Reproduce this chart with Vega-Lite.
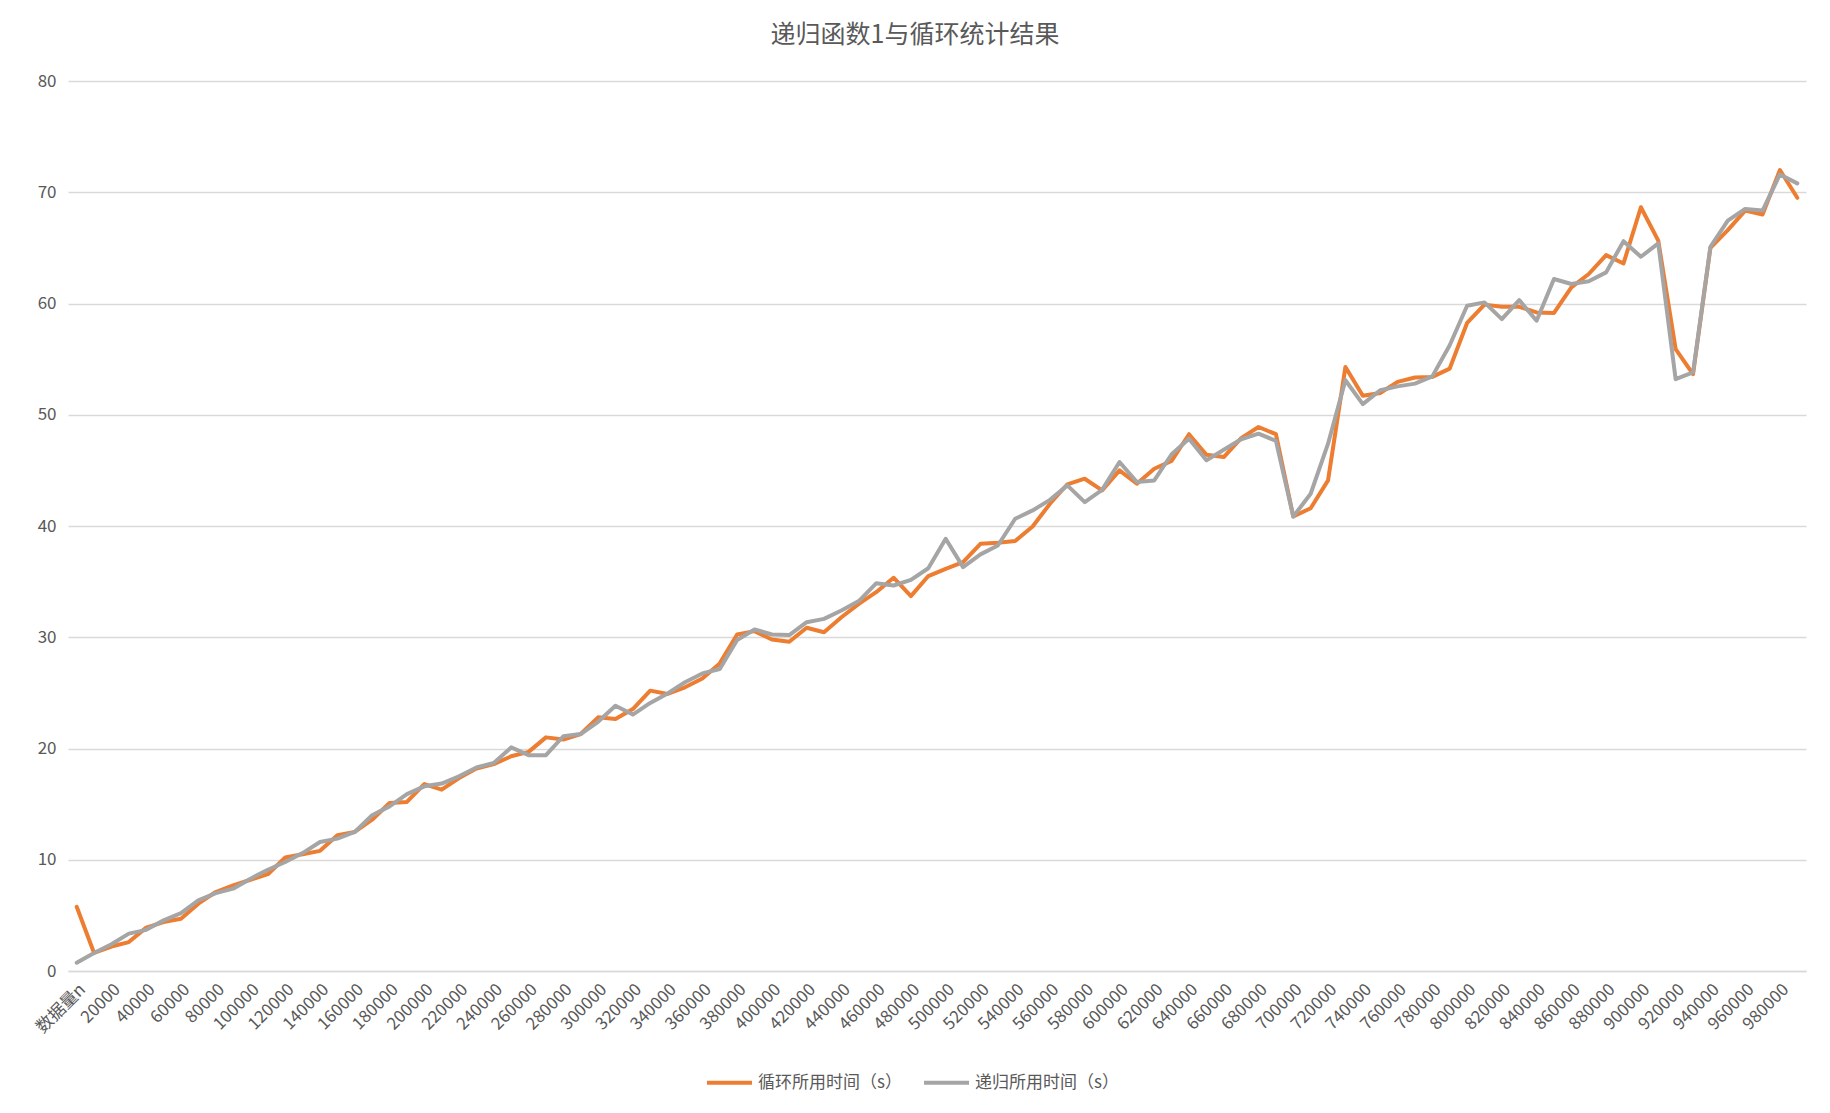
{
  "$schema": "https://vega.github.io/schema/vega-lite/v6.json",
  "width": 1738,
  "height": 890,
  "autosize": {"type": "none"},
  "padding": {"left": 68, "top": 81, "right": 24, "bottom": 142},
  "background": "white",
  "title": {
    "text": "递归函数1与循环统计结果",
    "font": "Noto Sans CJK SC",
    "fontSize": 25,
    "fontWeight": "normal",
    "color": "#595959",
    "anchor": "middle",
    "dx": -22,
    "offset": 24
  },
  "data": {
    "values": [
      {"n": "数据量n", "循环所用时间（s）": 5.77, "递归所用时间（s）": 0.75},
      {"n": "10000", "循环所用时间（s）": 1.62, "递归所用时间（s）": 1.62},
      {"n": "20000", "循环所用时间（s）": 2.2, "递归所用时间（s）": 2.4},
      {"n": "30000", "循环所用时间（s）": 2.6, "递归所用时间（s）": 3.36},
      {"n": "40000", "循环所用时间（s）": 3.9, "递归所用时间（s）": 3.7},
      {"n": "50000", "循环所用时间（s）": 4.4, "递归所用时间（s）": 4.55},
      {"n": "60000", "循环所用时间（s）": 4.7, "递归所用时间（s）": 5.2},
      {"n": "70000", "循环所用时间（s）": 6.05, "递归所用时间（s）": 6.35},
      {"n": "80000", "循环所用时间（s）": 7.1, "递归所用时间（s）": 7.0},
      {"n": "90000", "循环所用时间（s）": 7.7, "递归所用时间（s）": 7.4},
      {"n": "100000", "循环所用时间（s）": 8.2, "递归所用时间（s）": 8.3},
      {"n": "110000", "循环所用时间（s）": 8.7, "递归所用时间（s）": 9.1},
      {"n": "120000", "循环所用时间（s）": 10.2, "递归所用时间（s）": 9.8},
      {"n": "130000", "循环所用时间（s）": 10.5, "递归所用时间（s）": 10.6},
      {"n": "140000", "循环所用时间（s）": 10.8, "递归所用时间（s）": 11.6},
      {"n": "150000", "循环所用时间（s）": 12.2, "递归所用时间（s）": 11.9},
      {"n": "160000", "循环所用时间（s）": 12.5, "递归所用时间（s）": 12.5},
      {"n": "170000", "循环所用时间（s）": 13.6, "递归所用时间（s）": 14.0},
      {"n": "180000", "循环所用时间（s）": 15.1, "递归所用时间（s）": 14.8},
      {"n": "190000", "循环所用时间（s）": 15.2, "递归所用时间（s）": 15.9},
      {"n": "200000", "循环所用时间（s）": 16.8, "递归所用时间（s）": 16.6},
      {"n": "210000", "循环所用时间（s）": 16.3, "递归所用时间（s）": 16.85},
      {"n": "220000", "循环所用时间（s）": 17.35, "递归所用时间（s）": 17.5},
      {"n": "230000", "循环所用时间（s）": 18.2, "递归所用时间（s）": 18.3},
      {"n": "240000", "循环所用时间（s）": 18.6, "递归所用时间（s）": 18.7},
      {"n": "250000", "循环所用时间（s）": 19.3, "递归所用时间（s）": 20.1},
      {"n": "260000", "循环所用时间（s）": 19.7, "递归所用时间（s）": 19.4},
      {"n": "270000", "循环所用时间（s）": 21.0, "递归所用时间（s）": 19.4},
      {"n": "280000", "循环所用时间（s）": 20.8, "递归所用时间（s）": 21.1},
      {"n": "290000", "循环所用时间（s）": 21.3, "递归所用时间（s）": 21.3},
      {"n": "300000", "循环所用时间（s）": 22.8, "递归所用时间（s）": 22.4},
      {"n": "310000", "循环所用时间（s）": 22.65, "递归所用时间（s）": 23.85},
      {"n": "320000", "循环所用时间（s）": 23.55, "递归所用时间（s）": 23.05},
      {"n": "330000", "循环所用时间（s）": 25.2, "递归所用时间（s）": 24.1},
      {"n": "340000", "循环所用时间（s）": 24.9, "递归所用时间（s）": 24.95},
      {"n": "350000", "循环所用时间（s）": 25.5, "递归所用时间（s）": 25.95},
      {"n": "360000", "循环所用时间（s）": 26.3, "递归所用时间（s）": 26.75},
      {"n": "370000", "循环所用时间（s）": 27.65, "递归所用时间（s）": 27.15},
      {"n": "380000", "循环所用时间（s）": 30.25, "递归所用时间（s）": 29.75},
      {"n": "390000", "循环所用时间（s）": 30.55, "递归所用时间（s）": 30.7},
      {"n": "400000", "循环所用时间（s）": 29.8, "递归所用时间（s）": 30.25},
      {"n": "410000", "循环所用时间（s）": 29.6, "递归所用时间（s）": 30.2},
      {"n": "420000", "循环所用时间（s）": 30.85, "递归所用时间（s）": 31.35},
      {"n": "430000", "循环所用时间（s）": 30.45, "递归所用时间（s）": 31.65},
      {"n": "440000", "循环所用时间（s）": 31.8, "递归所用时间（s）": 32.4},
      {"n": "450000", "循环所用时间（s）": 33.0, "递归所用时间（s）": 33.25},
      {"n": "460000", "循环所用时间（s）": 34.05, "递归所用时间（s）": 34.85},
      {"n": "470000", "循环所用时间（s）": 35.35, "递归所用时间（s）": 34.65},
      {"n": "480000", "循环所用时间（s）": 33.7, "递归所用时间（s）": 35.15},
      {"n": "490000", "循环所用时间（s）": 35.5, "递归所用时间（s）": 36.2},
      {"n": "500000", "循环所用时间（s）": 36.15, "递归所用时间（s）": 38.85},
      {"n": "510000", "循环所用时间（s）": 36.75, "递归所用时间（s）": 36.3},
      {"n": "520000", "循环所用时间（s）": 38.4, "递归所用时间（s）": 37.45},
      {"n": "530000", "循环所用时间（s）": 38.5, "递归所用时间（s）": 38.25},
      {"n": "540000", "循环所用时间（s）": 38.65, "递归所用时间（s）": 40.65},
      {"n": "550000", "循环所用时间（s）": 39.95, "递归所用时间（s）": 41.4},
      {"n": "560000", "循环所用时间（s）": 42.0, "递归所用时间（s）": 42.35},
      {"n": "570000", "循环所用时间（s）": 43.75, "递归所用时间（s）": 43.65},
      {"n": "580000", "循环所用时间（s）": 44.25, "递归所用时间（s）": 42.15},
      {"n": "590000", "循环所用时间（s）": 43.2, "递归所用时间（s）": 43.25},
      {"n": "600000", "循环所用时间（s）": 45.0, "递归所用时间（s）": 45.75},
      {"n": "610000", "循环所用时间（s）": 43.8, "递归所用时间（s）": 43.95},
      {"n": "620000", "循环所用时间（s）": 45.15, "递归所用时间（s）": 44.1},
      {"n": "630000", "循环所用时间（s）": 45.85, "递归所用时间（s）": 46.45},
      {"n": "640000", "循环所用时间（s）": 48.25, "递归所用时间（s）": 47.85},
      {"n": "650000", "循环所用时间（s）": 46.4, "递归所用时间（s）": 45.9},
      {"n": "660000", "循环所用时间（s）": 46.2, "递归所用时间（s）": 46.85},
      {"n": "670000", "循环所用时间（s）": 47.9, "递归所用时间（s）": 47.8},
      {"n": "680000", "循环所用时间（s）": 48.9, "递归所用时间（s）": 48.3},
      {"n": "690000", "循环所用时间（s）": 48.25, "递归所用时间（s）": 47.65},
      {"n": "700000", "循环所用时间（s）": 40.85, "递归所用时间（s）": 40.85},
      {"n": "710000", "循环所用时间（s）": 41.6, "递归所用时间（s）": 42.9},
      {"n": "720000", "循环所用时间（s）": 44.1, "递归所用时间（s）": 47.4},
      {"n": "730000", "循环所用时间（s）": 54.3, "递归所用时间（s）": 53.1},
      {"n": "740000", "循环所用时间（s）": 51.7, "递归所用时间（s）": 50.95},
      {"n": "750000", "循环所用时间（s）": 51.95, "递归所用时间（s）": 52.2},
      {"n": "760000", "循环所用时间（s）": 52.95, "递归所用时间（s）": 52.55},
      {"n": "770000", "循环所用时间（s）": 53.35, "递归所用时间（s）": 52.8},
      {"n": "780000", "循环所用时间（s）": 53.4, "递归所用时间（s）": 53.45},
      {"n": "790000", "循环所用时间（s）": 54.15, "递归所用时间（s）": 56.25},
      {"n": "800000", "循环所用时间（s）": 58.25, "递归所用时间（s）": 59.8},
      {"n": "810000", "循环所用时间（s）": 59.9, "递归所用时间（s）": 60.1},
      {"n": "820000", "循环所用时间（s）": 59.7, "递归所用时间（s）": 58.6},
      {"n": "830000", "循环所用时间（s）": 59.7, "递归所用时间（s）": 60.3},
      {"n": "840000", "循环所用时间（s）": 59.2, "递归所用时间（s）": 58.45},
      {"n": "850000", "循环所用时间（s）": 59.15, "递归所用时间（s）": 62.2},
      {"n": "860000", "循环所用时间（s）": 61.45, "递归所用时间（s）": 61.75},
      {"n": "870000", "循环所用时间（s）": 62.65, "递归所用时间（s）": 62.0},
      {"n": "880000", "循环所用时间（s）": 64.35, "递归所用时间（s）": 62.8},
      {"n": "890000", "循环所用时间（s）": 63.6, "递归所用时间（s）": 65.6},
      {"n": "900000", "循环所用时间（s）": 68.65, "递归所用时间（s）": 64.2},
      {"n": "910000", "循环所用时间（s）": 65.65, "递归所用时间（s）": 65.4},
      {"n": "920000", "循环所用时间（s）": 55.9, "递归所用时间（s）": 53.2},
      {"n": "930000", "循环所用时间（s）": 53.65, "递归所用时间（s）": 53.8},
      {"n": "940000", "循环所用时间（s）": 65.0, "递归所用时间（s）": 65.1},
      {"n": "950000", "循环所用时间（s）": 66.6, "递归所用时间（s）": 67.45},
      {"n": "960000", "循环所用时间（s）": 68.35, "递归所用时间（s）": 68.5},
      {"n": "970000", "循环所用时间（s）": 68.0, "递归所用时间（s）": 68.35},
      {"n": "980000", "循环所用时间（s）": 72.0, "递归所用时间（s）": 71.6},
      {"n": "990000", "循环所用时间（s）": 69.5, "递归所用时间（s）": 70.8}
    ]
  },
  "transform": [
    {"fold": ["循环所用时间（s）", "递归所用时间（s）"], "as": ["series", "time"]}
  ],
  "mark": {"type": "line", "strokeWidth": 4, "strokeJoin": "round", "strokeCap": "round"},
  "encoding": {
    "x": {
      "field": "n",
      "type": "ordinal",
      "sort": null,
      "title": null,
      "axis": {
        "values": ["数据量n", "20000", "40000", "60000", "80000", "100000", "120000", "140000", "160000", "180000", "200000", "220000", "240000", "260000", "280000", "300000", "320000", "340000", "360000", "380000", "400000", "420000", "440000", "460000", "480000", "500000", "520000", "540000", "560000", "580000", "600000", "620000", "640000", "660000", "680000", "700000", "720000", "740000", "760000", "780000", "800000", "820000", "840000", "860000", "880000", "900000", "920000", "940000", "960000", "980000"],
        "labelAngle": -45,
        "labelOverlap": false,
        "labelFontSize": 17,
        "labelColor": "#595959",
        "labelPadding": 10,
        "ticks": false,
        "grid": false,
        "domainColor": "#d9d9d9",
        "domainWidth": 1.5
      }
    },
    "y": {
      "field": "time",
      "type": "quantitative",
      "title": null,
      "scale": {"domain": [0, 80], "nice": false},
      "axis": {
        "values": [0, 10, 20, 30, 40, 50, 60, 70, 80],
        "labelFontSize": 17,
        "labelColor": "#595959",
        "labelPadding": 12,
        "ticks": false,
        "domain": false,
        "gridColor": "#d9d9d9",
        "gridWidth": 1.5
      }
    },
    "color": {
      "field": "series",
      "type": "nominal",
      "sort": ["循环所用时间（s）", "递归所用时间（s）"],
      "scale": {
        "domain": ["循环所用时间（s）", "递归所用时间（s）"],
        "range": ["#ED7D31", "#A5A5A5"]
      },
      "legend": {
        "title": null,
        "orient": "none",
        "direction": "horizontal",
        "legendX": 637,
        "legendY": 977,
        "symbolType": "stroke",
        "symbolSize": 2025,
        "symbolStrokeWidth": 4,
        "labelFontSize": 17,
        "labelColor": "#595959",
        "labelOffset": 4,
        "columnPadding": 14
      }
    }
  },
  "config": {
    "font": "Noto Sans CJK SC",
    "view": {"stroke": null}
  }
}
